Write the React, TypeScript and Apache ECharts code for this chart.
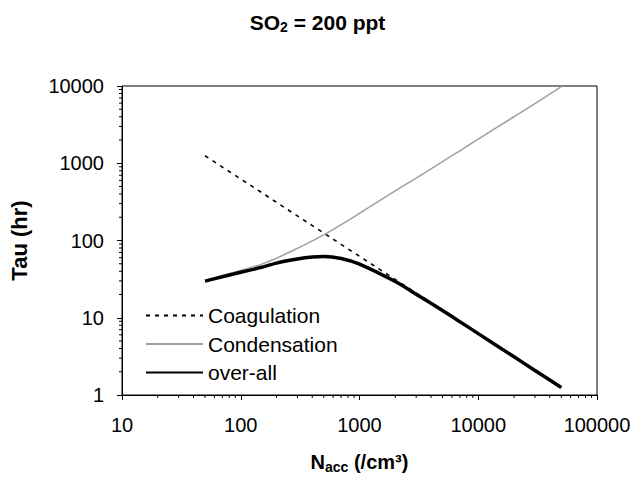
import React, { useEffect, useRef } from "react";
import * as echarts from "echarts";

const nValues = [50, 70, 100, 150, 200, 300, 400, 500, 700, 1000, 2000, 3000, 5000, 7000, 10000, 20000, 30000, 50000];
const coagulation = [1250, 893, 625, 417, 312, 208, 156, 125, 89, 62.5, 31.3, 20.8, 12.5, 8.9, 6.25, 3.13, 2.08, 1.25];
const condensation = [30, 35, 41, 49.5, 59, 79, 99, 118, 160, 225, 440, 640, 1050, 1450, 2050, 4000, 5900, 9800];
const overall = [29.8, 34, 38.8, 45, 51, 57.5, 61, 62, 58.5, 49.5, 29.4, 20.2, 12.4, 8.9, 6.23, 3.12, 2.08, 1.25];

const xMinorTicks = [20, 30, 40, 50, 60, 70, 80, 90, 200, 300, 400, 500, 600, 700, 800, 900, 2000, 3000, 4000, 5000, 6000, 7000, 8000, 9000, 20000, 30000, 40000, 50000, 60000, 70000, 80000, 90000];
const yMinorTicks = [2, 3, 4, 5, 6, 7, 8, 9, 20, 30, 40, 50, 60, 70, 80, 90, 200, 300, 400, 500, 600, 700, 800, 900, 2000, 3000, 4000, 5000, 6000, 7000, 8000, 9000];

const FONT = "Liberation Sans, Arial, sans-serif";

export default function App() {
  const ref = useRef<HTMLDivElement>(null);
  useEffect(() => {
    if (!ref.current) return;
    const chart = echarts.init(ref.current, undefined, { renderer: "svg" });
    const pair = (ys: number[]) => nValues.map((x, i) => [x, ys[i]]);
    chart.setOption({
      animation: false,
      backgroundColor: "#fff",
      textStyle: { fontFamily: FONT },
      title: {
        text: "{a|SO}{b|2}{a| = 200 ppt}",
        left: "center",
        top: 5,
        textStyle: {
          rich: {
            a: { fontSize: 21, fontWeight: "bold", fontFamily: FONT, color: "#000", lineHeight: 24 },
            b: { fontSize: 14, fontWeight: "bold", fontFamily: FONT, color: "#000", lineHeight: 14, verticalAlign: "bottom" },
          },
        },
      },
      grid: { left: 120, right: 38, top: 86, bottom: 79, show: true, borderColor: "#000", borderWidth: 1 },
      legend: {
        orient: "vertical",
        left: 145,
        top: 305,
        padding: 0,
        itemWidth: 57,
        itemHeight: 21,
        itemGap: 7.5,
        itemStyle: { opacity: 0 },
        textStyle: { fontSize: 21, lineHeight: 21, fontFamily: FONT, color: "#000", padding: [0, 0, 0, 0] },
        data: ["Coagulation", "Condensation", "over-all"],
      },
      xAxis: {
        type: "log",
        logBase: 10,
        min: 10,
        max: 100000,
        name: "{a|N}{b|acc}{a| (/cm³)}",
        nameLocation: "middle",
        nameGap: 55,
        nameTextStyle: {
          rich: {
            a: { fontSize: 20, fontWeight: "bold", fontFamily: FONT, color: "#000", lineHeight: 24 },
            b: { fontSize: 14, fontWeight: "bold", fontFamily: FONT, color: "#000", lineHeight: 14, verticalAlign: "bottom" },
          },
        },
        axisLine: { lineStyle: { color: "#000", width: 1 } },
        axisTick: { show: true, inside: false, length: 5, lineStyle: { color: "#000" } },
        axisLabel: { fontSize: 20, color: "#000", fontFamily: FONT, margin: 20, formatter: (v: number) => String(v) },
        splitLine: { show: false },
      },
      yAxis: {
        type: "log",
        logBase: 10,
        min: 1,
        max: 10000,
        name: "Tau (hr)",
        nameLocation: "middle",
        nameGap: 92,
        nameRotate: 90,
        nameTextStyle: { fontSize: 22, fontWeight: "bold", fontFamily: FONT, color: "#000" },
        axisLine: { lineStyle: { color: "#000", width: 1 } },
        axisTick: { show: true, inside: false, length: 5, lineStyle: { color: "#000" } },
        axisLabel: { fontSize: 20, color: "#000", fontFamily: FONT, margin: 18, formatter: (v: number) => String(v) },
        splitLine: { show: false },
      },
      series: [
        {
          name: "Coagulation",
          type: "line",
          symbol: "none",
          data: pair(coagulation),
          lineStyle: { color: "#000", width: 1.6, type: [4, 5] },
          itemStyle: { color: "#000" },
          z: 2,
        },
        {
          name: "Condensation",
          type: "line",
          symbol: "none",
          smooth: 0.4,
          data: pair(condensation),
          lineStyle: { color: "#a0a0a0", width: 1.5 },
          itemStyle: { color: "#a0a0a0" },
          z: 3,
        },
        {
          name: "over-all",
          type: "line",
          symbol: "none",
          smooth: 0.3,
          data: pair(overall),
          lineStyle: { color: "#000", width: 3.5 },
          itemStyle: { color: "#000" },
          z: 4,
        },
        {
          type: "custom",
          coordinateSystem: "cartesian2d",
          clip: false,
          silent: true,
          data: xMinorTicks.map((v) => [v, 1]),
          renderItem: (params: any, api: any) => {
            const p = api.coord([api.value(0), 1]);
            return { type: "line", shape: { x1: p[0], y1: p[1], x2: p[0], y2: p[1] + 3 }, style: { stroke: "#000", lineWidth: 1 } };
          },
        },
        {
          type: "custom",
          coordinateSystem: "cartesian2d",
          clip: false,
          silent: true,
          data: yMinorTicks.map((v) => [10, v]),
          renderItem: (params: any, api: any) => {
            const p = api.coord([10, api.value(1)]);
            return { type: "line", shape: { x1: p[0] - 3, y1: p[1], x2: p[0], y2: p[1] }, style: { stroke: "#000", lineWidth: 1 } };
          },
        },
      ],
    });
    return () => chart.dispose();
  }, []);
  return <div ref={ref} style={{ width: 635, height: 479, position: "absolute", left: 0, top: 0 }} />;
}
